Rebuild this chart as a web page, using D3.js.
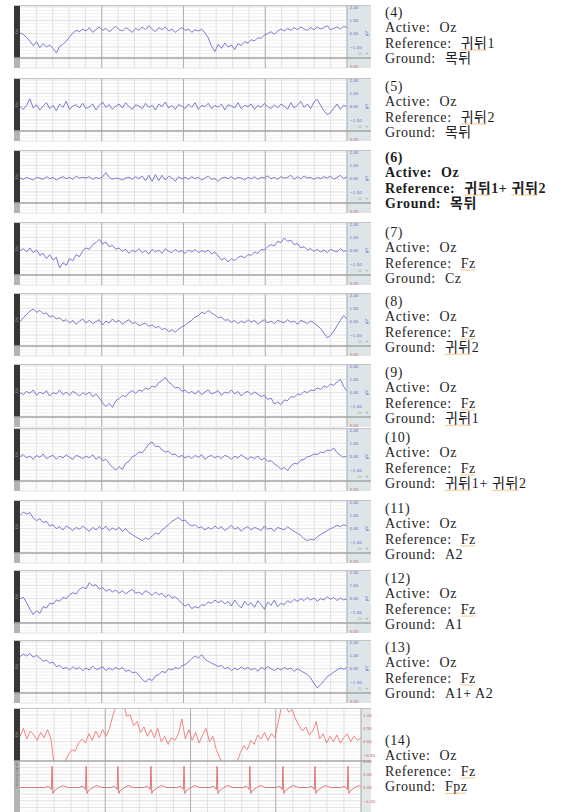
<!DOCTYPE html>
<html lang="ko">
<head>
<meta charset="UTF-8">
<title>Oz montage comparison</title>
<script src="https://d3js.org/d3.v7.min.js"></script>
<style>
  body { margin: 0; background: #fff; }
  svg { display: block; }
  .lbl { font-family: "Liberation Serif", "Noto Sans CJK KR", serif; font-size: 14px; letter-spacing: 0.6px; fill: #1e1e1e; white-space: pre; }
  .tiny { font-family: "DejaVu Sans", sans-serif; font-size: 4px; }
</style>
</head>
<body>
<svg id="chart" width="568" height="812"></svg>
<script>
// panel layout (top edge of each screenshot) and label text
const panelTops = [5, 78, 150, 222, 293, 364, 428, 500, 570, 640, 708];
const labelTops = [12, 86, 157, 232, 301, 372, 437, 508, 578, 647, 740];
const panelIds = ["(4)", "(5)", "(6)", "(7)", "(8)", "(9)", "(10)", "(11)", "(12)", "(13)", "(14)"];
const activeSites = ["Oz", "Oz", "Oz", "Oz", "Oz", "Oz", "Oz", "Oz", "Oz", "Oz", "Oz"];
const referenceSites = ["귀뒤1", "귀뒤2", "귀뒤1+ 귀뒤2", "Fz", "Fz", "Fz", "Fz", "Fz", "Fz", "Fz", "Fz"];
const groundSites = ["목뒤", "목뒤", "목뒤", "Cz", "귀뒤2", "귀뒤1", "귀뒤1+ 귀뒤2", "A2", "A1", "A1+ A2", "Fpz"];

// axis ticks
const blueTicks = [2, 1, 0, -1];
const eegTicks14 = [1, 0.5, 0, -0.5];
const ecgTicks14 = [4, 2, 0, -2];

// Oz traces (units of the right-hand scale)
const trace4 = [
  0.05, -0.05, -0.3, -0.55, -0.9, -0.6, -1.05, -0.75, -1.0, -0.85,
  -1.1, -1.45, -0.95, -0.8, -0.55, -0.25, 0.05, 0.25, 0.15, 0.35,
  0.2, 0.45, 0.1, 0.3, 0.5, 0.25, 0.4, 0.15, 0.35, 0.55,
  0.3, 0.2, 0.45, 0.3, 0.1, 0.4, 0.25, 0.5, 0.3, 0.6,
  0.35, 0.15, 0.45, 0.3, 0.5, 0.2, 0.35, 0.1, 0.3, 0.45,
  0.25, 0.35, 0.1, 0.3, 0.2, 0.35, 0.05, -0.3, -0.95, -1.35,
  -0.8, -1.1, -0.7, -1.0, -0.85, -1.2, -0.75, -0.9, -0.6, -0.7,
  -0.45, -0.55, -0.3, -0.35, -0.1, 0.0, 0.15, -0.05, 0.2, 0.35,
  0.2, 0.4, 0.25, 0.45, 0.3, 0.5, 0.35, 0.25, 0.45, 0.3,
  0.5, 0.35, 0.45, 0.6, 0.3, 0.4, 0.5, 0.35, 0.55, 0.45
];
const trace5 = [
  0.0, -0.2, 0.1, 0.6, -0.1, 0.15, -0.25, 0.05, 0.3, -0.15,
  0.1, -0.3, 0.2, -0.05, 0.4, -0.2, 0.05, 0.15, -0.1, 0.25,
  -0.15, 0.0, 0.2, -0.25, 0.1, 0.35, -0.05, 0.15, -0.2, 0.05,
  0.2, -0.1, 0.3, 0.0, -0.2, 0.15, 0.05, -0.15, 0.25, -0.05,
  0.1, -0.25, 0.2, 0.0, 0.35, -0.1, 0.1, -0.2, 0.15, 0.05,
  -0.15, 0.2, -0.05, 0.3, -0.2, 0.1, 0.0, 0.25, -0.15, 0.1,
  -0.05, 0.2, -0.25, 0.15, 0.05, -0.1, 0.3, -0.15, 0.1, 0.0,
  0.2, -0.2, 0.1, -0.05, 0.25, 0.0, -0.15, 0.15, -0.1, 0.2,
  0.05, -0.2, 0.3, -0.1, 0.1, 0.4, -0.05, 0.2, -0.15, 0.35,
  0.55, 0.1, -0.3, -0.6, -0.45, -0.1, 0.2, -0.2, 0.1, 0.0
];
const trace6 = [
  0.05, -0.05, 0.1, 0.0, -0.1, 0.1, 0.05, -0.05, 0.15, 0.0,
  0.1, -0.1, 0.05, 0.15, 0.0, 0.1, -0.05, 0.2, 0.05, 0.1,
  0.05, 0.15, -0.05, 0.1, 0.0, 0.15, 0.45, 0.1, -0.05, 0.05,
  0.0, -0.1, 0.05, 0.1, -0.05, 0.15, 0.0, 0.2, -0.15, 0.25,
  -0.2, 0.3, -0.15, 0.25, -0.1, 0.2, 0.05, -0.2, 0.15, 0.0,
  0.1, -0.05, 0.15, 0.0, 0.1, -0.1, 0.05, 0.2, -0.05, 0.0,
  -0.2, 0.05, 0.1, 0.0, 0.15, -0.05, 0.1, 0.05, -0.1, 0.1,
  0.0, 0.15, -0.05, 0.1, 0.05, 0.2, 0.0, 0.1, -0.05, 0.15,
  0.05, 0.1, 0.25, -0.05, 0.15, 0.0, 0.2, 0.05, 0.1, -0.05,
  0.1, 0.0, 0.15, 0.05, 0.2, -0.05, 0.1, 0.25, 0.0, 0.15
];
const trace7 = [
  0.0, 0.15, -0.1, 0.2, -0.15, 0.05, -0.35, -0.2, -0.6, -0.3,
  -0.7, -0.5, -1.3, -0.9, -1.1, -0.6, -0.75, -0.3, -0.45, 0.0,
  0.2, 0.1, 0.45, 0.6, 0.85, 0.5, 0.65, 0.3, 0.4, 0.1,
  0.2, -0.05, 0.1, -0.2, 0.05, -0.1, 0.15, -0.15, 0.0, -0.25,
  0.1, -0.1, 0.05, -0.2, 0.15, -0.05, -0.15, 0.1, -0.1, 0.0,
  -0.2, 0.05, -0.1, 0.1, -0.15, 0.0, -0.1, 0.05, -0.25, -0.1,
  -0.4, -0.7, -0.55, -0.85, -0.6, -0.75, -0.5, -0.4, -0.55, -0.3,
  -0.35, -0.1, -0.2, 0.1, 0.05, 0.3, 0.45, 0.35, 0.7, 0.6,
  0.95, 0.7, 0.8, 0.45, 0.55, 0.2, 0.3, 0.05, 0.15, -0.05,
  0.1, -0.1, 0.05, -0.15, 0.1, 0.0, -0.1, 0.15, -0.05, 0.0
];
const trace8 = [
  0.0, 0.3, 0.55, 0.8, 0.95, 0.7, 0.85, 0.6, 0.65, 0.35,
  0.45, 0.2, 0.3, 0.05, 0.15, -0.1, 0.1, -0.2, 0.05, 0.2,
  -0.1, 0.1, -0.15, 0.0, 0.15, -0.25, 0.05, -0.1, 0.2, -0.05,
  0.1, -0.2, 0.0, 0.15, -0.15, -0.05, -0.3, -0.2, -0.1, -0.35,
  -0.25, -0.45, -0.35, -0.6, -0.5, -0.75, -0.6, -0.8, -0.55, -0.4,
  -0.25, -0.05, 0.1, 0.35, 0.45, 0.7, 0.6, 0.85, 0.65, 0.5,
  0.3, 0.35, 0.1, 0.15, -0.05, 0.1, -0.15, 0.05, -0.1, 0.15,
  -0.05, 0.1, -0.2, 0.0, 0.15, -0.1, 0.05, -0.15, 0.1, 0.0,
  -0.1, 0.15, -0.05, 0.05, -0.2, 0.1, 0.0, -0.15, 0.05, -0.1,
  -0.3, -0.5, -0.85, -1.2, -1.05, -0.7, -0.3, 0.1, 0.45, 0.2
];
const trace9 = [
  0.0, -0.15, 0.1, -0.05, 0.2, -0.2, 0.05, -0.1, 0.15, -0.25,
  0.0, -0.1, 0.2, -0.15, 0.05, -0.2, 0.1, -0.05, -0.25, 0.0,
  -0.15, 0.05, -0.3, -0.1, -0.4, -0.75, -1.05, -0.8, -1.1, -0.6,
  -0.45, -0.2, -0.3, 0.0, 0.15, -0.05, 0.2, 0.1, 0.35, 0.25,
  0.5, 0.4, 0.75, 0.9, 1.15, 0.8, 0.6, 0.35, 0.4, 0.1,
  0.2, -0.05, 0.1, -0.1, 0.15, -0.15, 0.05, 0.2, -0.1, 0.0,
  0.15, -0.2, 0.05, -0.05, 0.2, -0.1, 0.1, -0.25, 0.0, 0.1,
  -0.15, 0.05, -0.1, -0.3, -0.2, -0.5, -0.4, -0.85, -0.7, -0.9,
  -0.55, -0.6, -0.3, -0.35, -0.1, -0.15, 0.1, 0.0, 0.2, 0.15,
  0.35, 0.25, 0.5, 0.4, 0.65, 0.55, 0.8, 1.0, 0.45, 0.1
];
const trace10 = [
  0.0, 0.15, -0.1, 0.05, -0.2, 0.1, -0.05, 0.2, -0.15, 0.0,
  0.1, -0.2, 0.05, -0.1, 0.15, -0.05, -0.2, 0.1, 0.0, -0.15,
  0.05, -0.1, 0.15, -0.2, 0.0, -0.3, -0.2, -0.5, -0.8, -1.0,
  -0.75, -0.95, -0.5, -0.35, 0.0, 0.1, 0.35, 0.3, 0.6, 0.95,
  1.1, 0.75, 0.8, 0.5, 0.35, 0.4, 0.15, 0.2, -0.05, 0.1,
  -0.1, 0.05, -0.15, 0.1, -0.05, 0.15, -0.2, 0.0, 0.1, -0.1,
  0.05, -0.15, 0.1, 0.0, -0.2, 0.05, -0.1, 0.15, -0.05, -0.2,
  0.0, -0.15, 0.05, -0.25, -0.1, -0.35, -0.3, -0.55, -0.7, -0.95,
  -0.8, -1.05, -0.7, -0.5, -0.55, -0.25, -0.2, 0.0, 0.05, 0.2,
  0.15, 0.35, 0.3, 0.5, 0.45, 0.65, 0.3, 0.1, -0.05, 0.05
];
const trace11 = [
  1.0, 1.25, 1.1, 1.2, 0.8, 0.6, 0.75, 0.45, 0.55, 0.2,
  0.3, 0.0, 0.15, -0.1, 0.2, 0.05, -0.15, 0.1, -0.05, 0.2,
  0.0, -0.2, 0.1, -0.1, 0.15, -0.05, 0.2, -0.15, 0.05, -0.1,
  0.1, -0.2, 0.0, -0.3, -0.45, -0.6, -0.75, -0.9, -0.7, -0.8,
  -0.55, -0.35, -0.4, -0.1, 0.1, 0.3, 0.55, 0.7, 0.85, 0.6,
  0.65, 0.35, 0.2, 0.3, 0.05, 0.15, -0.1, 0.1, -0.05, 0.2,
  0.0, 0.15, -0.15, 0.05, 0.25, -0.05, 0.1, -0.2, 0.05, 0.15,
  -0.1, 0.1, 0.0, -0.15, 0.2, -0.05, 0.05, -0.2, 0.1, 0.0,
  -0.1, 0.15, -0.05, -0.2, -0.35, -0.5, -0.75, -0.9, -0.8, -0.85,
  -0.6, -0.45, -0.3, -0.15, 0.0, 0.1, 0.25, 0.15, 0.3, 0.2
];
const trace12 = [
  0.0, 0.1, -0.3, -0.8, -1.2, -0.9, -1.1, -0.6, -0.7, -0.35,
  -0.4, -0.1, -0.2, 0.1, 0.0, 0.3, 0.45, 0.35, 0.7, 0.85,
  0.75, 1.2, 0.95, 1.05, 0.7, 0.85, 0.55, 0.7, 0.5, 0.65,
  0.4, 0.6, 0.35, 0.55, 0.7, 0.4, 0.5, 0.3, 0.6, 0.45,
  0.25, 0.5, 0.3, 0.4, 0.1, 0.3, 0.05, 0.15, -0.1, -0.35,
  -0.55, -0.4, -0.75, -0.6, -0.7, -0.45, -0.5, -0.25, -0.35, -0.1,
  -0.3, -0.15, -0.4, -0.2, -0.55, -0.1, -0.45, -0.7, -0.2, -0.5,
  -0.3, -0.65, -0.15, -0.45, -0.8, -0.25, -0.5, -0.1, -0.6, -0.35,
  -0.45, -0.15, -0.3, -0.05, -0.2, 0.0, -0.15, 0.1, -0.1, 0.05,
  -0.2, 0.0, -0.1, 0.15, -0.05, 0.1, -0.15, 0.05, -0.1, 0.0
];
const trace13 = [
  0.9, 1.1, 0.95, 1.15, 0.85, 1.0, 0.8, 0.55, 0.65, 0.4,
  0.5, 0.15, 0.25, 0.0, 0.1, -0.1, 0.15, -0.05, 0.1, -0.15,
  0.05, -0.1, 0.2, -0.05, 0.0, 0.15, -0.15, 0.05, -0.1, 0.1,
  -0.05, 0.1, -0.2, -0.1, -0.3, -0.25, -0.5, -0.8, -1.0, -0.75,
  -0.9, -0.55, -0.45, -0.2, -0.3, 0.0, -0.1, 0.1, 0.0, 0.2,
  0.3, 0.5, 0.75, 0.95, 0.8, 1.05, 0.7, 0.55, 0.4, 0.3,
  0.15, 0.25, 0.0, 0.1, -0.15, 0.05, -0.1, 0.15, -0.05, 0.1,
  -0.1, 0.05, -0.2, 0.1, -0.05, 0.15, 0.0, -0.15, 0.05, -0.1,
  0.1, -0.05, 0.05, -0.2, 0.0, -0.15, -0.3, -0.45, -0.7, -1.1,
  -1.45, -1.2, -0.9, -0.6, -0.45, -0.25, -0.1, 0.05, -0.05, 0.1
];
// panel (14): Oz (upper, clipped at the edges) and analog input ECG (lower)
const eeg14 = [
  0.2, 0.5, 0.1, 0.4, 0.25, 0.05, 0.35, 0.15, 0.45, 0.1,
  -1.0, -1.3, -1.3, -0.75, -0.5, -0.3, -0.35, -0.05, 0.1, -0.05,
  0.3, 0.05, 0.4, 0.15, 0.45, 0.2, 0.5, 1.0, 1.35, 1.25,
  1.4, 0.95, 1.0, 0.6, 0.75, 0.35, 0.55, 0.2, 0.45, 0.15,
  0.5, 0.0, 0.2, -0.1, 0.15, 0.05, 0.3, 0.85, 0.1, 0.45,
  0.05, 0.35, -0.05, 0.25, 0.5, 0.0, 0.2, -0.3, -0.6, -0.95,
  -1.3, -1.3, -1.3, -0.75, -0.4, -0.15, -0.3, 0.05, -0.1, 0.25,
  0.1, 0.35, 0.05, 0.3, 0.15, 0.75, 1.35, 1.4, 1.1, 1.2,
  0.85, 0.6, 0.4, 0.55, 0.25, 0.4, 0.75, 0.1, 0.3, -0.05,
  0.2, 0.0, 0.25, -0.05, 0.15, 0.3, 0.0, 0.2, 0.05, 0.15
];
const ecgBeatTimes = [0.94, 1.94, 2.87, 3.84, 4.81, 5.78, 6.74, 7.71, 8.65, 9.62];
const ecgTemplate = [
  [-0.2, 0], [-0.12, 0.2], [-0.06, 0], [-0.02, -0.3], [0, 3.2], [0.025, -0.9],
  [0.06, -0.5], [0.12, -0.3], [0.2, 0], [0.3, 0.3], [0.4, 0.15], [0.45, 0]
];

const blueTraces = [trace4, trace5, trace6, trace7, trace8, trace9, trace10, trace11, trace12, trace13];

const svg = d3.select("#chart");
const barL = 14, plotL = 20, plotR = 347, axisR = 371, plotR14 = 361;
const upperH = 53, lowerH = 10;

function hGrid(g, y, step, x0, x1, yTop, yBot) {
  const lo = y.invert(yBot), hi = y.invert(yTop);
  const vals = d3.range(Math.ceil(lo / step) * step, hi, step);
  g.append("g").selectAll("line").data(vals).join("line")
    .attr("x1", x0).attr("x2", x1)
    .attr("y1", d => y(d)).attr("y2", d => y(d))
    .attr("stroke", d => Math.abs(d - Math.round(d)) < 1e-6 ? "#d2d2d2" : "#ebebeb")
    .attr("stroke-width", 0.7);
}

function vGrid(g, x0, x1, yTop, yBot) {
  const gx = d3.scaleLinear().domain([0, 20]).range([x0, x1]);
  g.append("g").selectAll("line").data(d3.range(1, 20)).join("line")
    .attr("x1", d => gx(d)).attr("x2", d => gx(d))
    .attr("y1", yTop).attr("y2", yBot)
    .attr("stroke", d => d % 5 === 0 ? "#b2b2b2" : "#dadada")
    .attr("stroke-width", d => d % 5 === 0 ? 1.1 : 0.8);
}

function sideBar(g, T, h, fill, label) {
  g.append("rect").attr("x", barL).attr("y", T).attr("width", plotL - barL).attr("height", h).attr("fill", fill);
  if (label) {
    g.append("text").attr("class", "tiny")
      .attr("transform", `translate(${barL + 4},${T + h / 2}) rotate(-90)`)
      .attr("text-anchor", "middle").attr("fill", "#9a9a9a").text(label);
  }
}

function rightAxis(g, y, ticks, xPos, color) {
  const ax = g.append("g").attr("transform", `translate(${xPos},0)`)
    .call(d3.axisRight(y).tickValues(ticks).tickSize(0).tickPadding(0).tickFormat(d3.format(".2f")));
  ax.select(".domain").remove();
  ax.selectAll("text").attr("class", "tiny").attr("fill", color).attr("font-size", 4).attr("font-family", "DejaVu Sans");
}

function drawBluePanel(T, vals, k) {
  const g = svg.append("g");
  const x = d3.scaleLinear().domain([0, vals.length - 1]).range([plotL, plotR]);
  const y = d3.scaleLinear().domain([-1, 2]).range([T + 42, T + 2]);

  g.append("rect").attr("x", plotL).attr("y", T).attr("width", plotR - plotL).attr("height", upperH + lowerH).attr("fill", "#fff");
  hGrid(g, y, 0.25, plotL, plotR, T, T + upperH);
  const yLow = d3.scaleLinear().domain([0, 1]).range([T + upperH + lowerH, T + upperH]);
  hGrid(g, yLow, 0.3, plotL, plotR, T + upperH, T + upperH + lowerH);
  vGrid(g, plotL, plotR, T, T + upperH + lowerH);

  g.append("clipPath").attr("id", "clip" + k)
    .append("rect").attr("x", plotL).attr("y", T).attr("width", plotR - plotL).attr("height", upperH);
  g.append("path").datum(vals)
    .attr("clip-path", `url(#clip${k})`)
    .attr("fill", "none").attr("stroke", "#6d6dca").attr("stroke-width", 0.9)
    .attr("d", d3.line().x((d, i) => x(i)).y(d => y(d)));

  sideBar(g, T, upperH, "#363636", "Oz");
  sideBar(g, T + upperH, lowerH, "#b4b4b4", null);

  // right scale panel
  g.append("rect").attr("x", plotR).attr("y", T).attr("width", axisR - plotR).attr("height", upperH + lowerH).attr("fill", "#dde5e8");
  g.append("line").attr("x1", plotR).attr("x2", plotR).attr("y1", T).attr("y2", T + upperH + lowerH).attr("stroke", "#a8a8a8");
  rightAxis(g, y, blueTicks, plotR + 2.5, "#6a6acc");
  g.append("text").attr("class", "tiny")
    .attr("transform", `translate(${axisR - 3},${y(0)}) rotate(-90)`)
    .attr("text-anchor", "middle").attr("fill", "#6a6acc").attr("font-size", 5).text("µV");
  g.append("text").attr("class", "tiny").attr("x", plotR + 11).attr("y", T + upperH - 3)
    .attr("fill", "#9aa0a4").attr("font-size", 3.5).text("⊡ - +");
  g.append("text").attr("class", "tiny").attr("x", plotR + 2.5).attr("y", T + upperH + lowerH - 0.5)
    .attr("fill", "#d06464").text("4.00");

  // section separator and top border
  g.append("line").attr("x1", barL).attr("x2", axisR).attr("y1", T + upperH).attr("y2", T + upperH)
    .attr("stroke", "#a4a4a4").attr("stroke-width", 1.4);
  g.append("line").attr("x1", barL).attr("x2", axisR).attr("y1", T + 0.5).attr("y2", T + 0.5)
    .attr("stroke", "#c4c4c4").attr("stroke-width", 1);
}

function drawPanel14(T) {
  const g = svg.append("g");
  const bottom = 812;
  const sep = T + upperH;
  const x = d3.scaleLinear().domain([0, 10]).range([plotL, plotR14]);
  const ys = d3.scaleLinear().domain([-0.5, 1]).range([755.1, 714.9]);
  const ye = d3.scaleLinear().domain([-2, 4]).range([800.8, 761]);

  g.append("rect").attr("x", plotL).attr("y", T).attr("width", plotR14 - plotL).attr("height", bottom - T).attr("fill", "#fff");
  hGrid(g, ys, 0.125, plotL, plotR14, T, sep);
  hGrid(g, ye, 0.5, plotL, plotR14, sep, bottom);
  vGrid(g, plotL, plotR14, T, bottom);

  g.append("clipPath").attr("id", "clip14")
    .append("rect").attr("x", plotL).attr("y", T).attr("width", plotR14 - plotL).attr("height", upperH);
  g.append("path").datum(eeg14)
    .attr("clip-path", "url(#clip14)")
    .attr("fill", "none").attr("stroke", "#f07676").attr("stroke-width", 0.9)
    .attr("d", d3.line().x((d, i) => x(i * 10 / (eeg14.length - 1))).y(d => ys(d)));

  const ecgPts = [[0, 0]];
  ecgBeatTimes.forEach(bt => ecgTemplate.forEach(([dt, v]) => ecgPts.push([bt + dt, v])));
  ecgPts.push([10, 0]);
  g.append("path").datum(ecgPts)
    .attr("fill", "none").attr("stroke", "#dc6a6a").attr("stroke-width", 0.9)
    .attr("d", d3.line().x(d => x(d[0])).y(d => ye(d[1])));

  sideBar(g, T, upperH, "#363636", "Oz");
  sideBar(g, sep, bottom - sep, "#b4b4b4", null);
  g.append("text").attr("class", "tiny")
    .attr("transform", `translate(${barL + 4},${sep + 14}) rotate(-90)`)
    .attr("text-anchor", "middle").attr("fill", "#777").attr("font-size", 3.5).text("Analog Input");

  g.append("rect").attr("x", plotR14).attr("y", T).attr("width", axisR - plotR14).attr("height", bottom - T).attr("fill", "#e2e8ea");
  g.append("line").attr("x1", plotR14).attr("x2", plotR14).attr("y1", T).attr("y2", bottom).attr("stroke", "#a8a8a8");
  rightAxis(g, ys, eegTicks14, plotR14 + 2, "#d06464");
  rightAxis(g, ye, ecgTicks14, plotR14 + 2, "#d06464");

  g.append("line").attr("x1", barL).attr("x2", axisR).attr("y1", sep).attr("y2", sep)
    .attr("stroke", "#a4a4a4").attr("stroke-width", 1.4);
  g.append("line").attr("x1", barL).attr("x2", axisR).attr("y1", T + 0.5).attr("y2", T + 0.5)
    .attr("stroke", "#c4c4c4").attr("stroke-width", 1);
}

blueTraces.forEach((vals, k) => drawBluePanel(panelTops[k], vals, k));
drawPanel14(panelTops[10]);

// right-hand montage descriptions
const textX = 385, lineGap = 15.3;
const flagged = /(귀뒤|Fpz|Fz)/;

function squiggle(x0, x1, y) {
  const pts = d3.range(x0, x1 + 0.1, 1).map((px, i) => [px, y + (i % 2 ? 0.7 : -0.7)]);
  svg.append("path").attr("d", d3.line()(pts))
    .attr("fill", "none").attr("stroke", "#f0a03c").attr("stroke-width", 0.7).attr("stroke-dasharray", "1.2 0.6");
}

function writeLine(y, label, value, bold) {
  const t = svg.append("text").attr("class", "lbl").attr("x", textX).attr("y", y)
    .attr("font-weight", bold ? "bold" : null).text(label);
  if (value == null) return;
  let cx = textX + t.node().getComputedTextLength() + 9;
  value.split(flagged).filter(s => s.length).forEach(tok => {
    const s = svg.append("text").attr("class", "lbl").attr("x", cx).attr("y", y)
      .attr("font-weight", bold ? "bold" : null).text(tok);
    const w = s.node().getComputedTextLength();
    if (flagged.test(tok)) squiggle(cx, cx + w - 1, y + 2.5);
    cx += w;
  });
}

panelIds.forEach((id, k) => {
  const base = labelTops[k] + 5;
  const bold = k === 2;
  writeLine(base, id, null, bold);
  writeLine(base + lineGap, "Active:", activeSites[k], bold);
  writeLine(base + 2 * lineGap, "Reference:", referenceSites[k], bold);
  writeLine(base + 3 * lineGap, "Ground:", groundSites[k], bold);
});
</script>
</body>
</html>
